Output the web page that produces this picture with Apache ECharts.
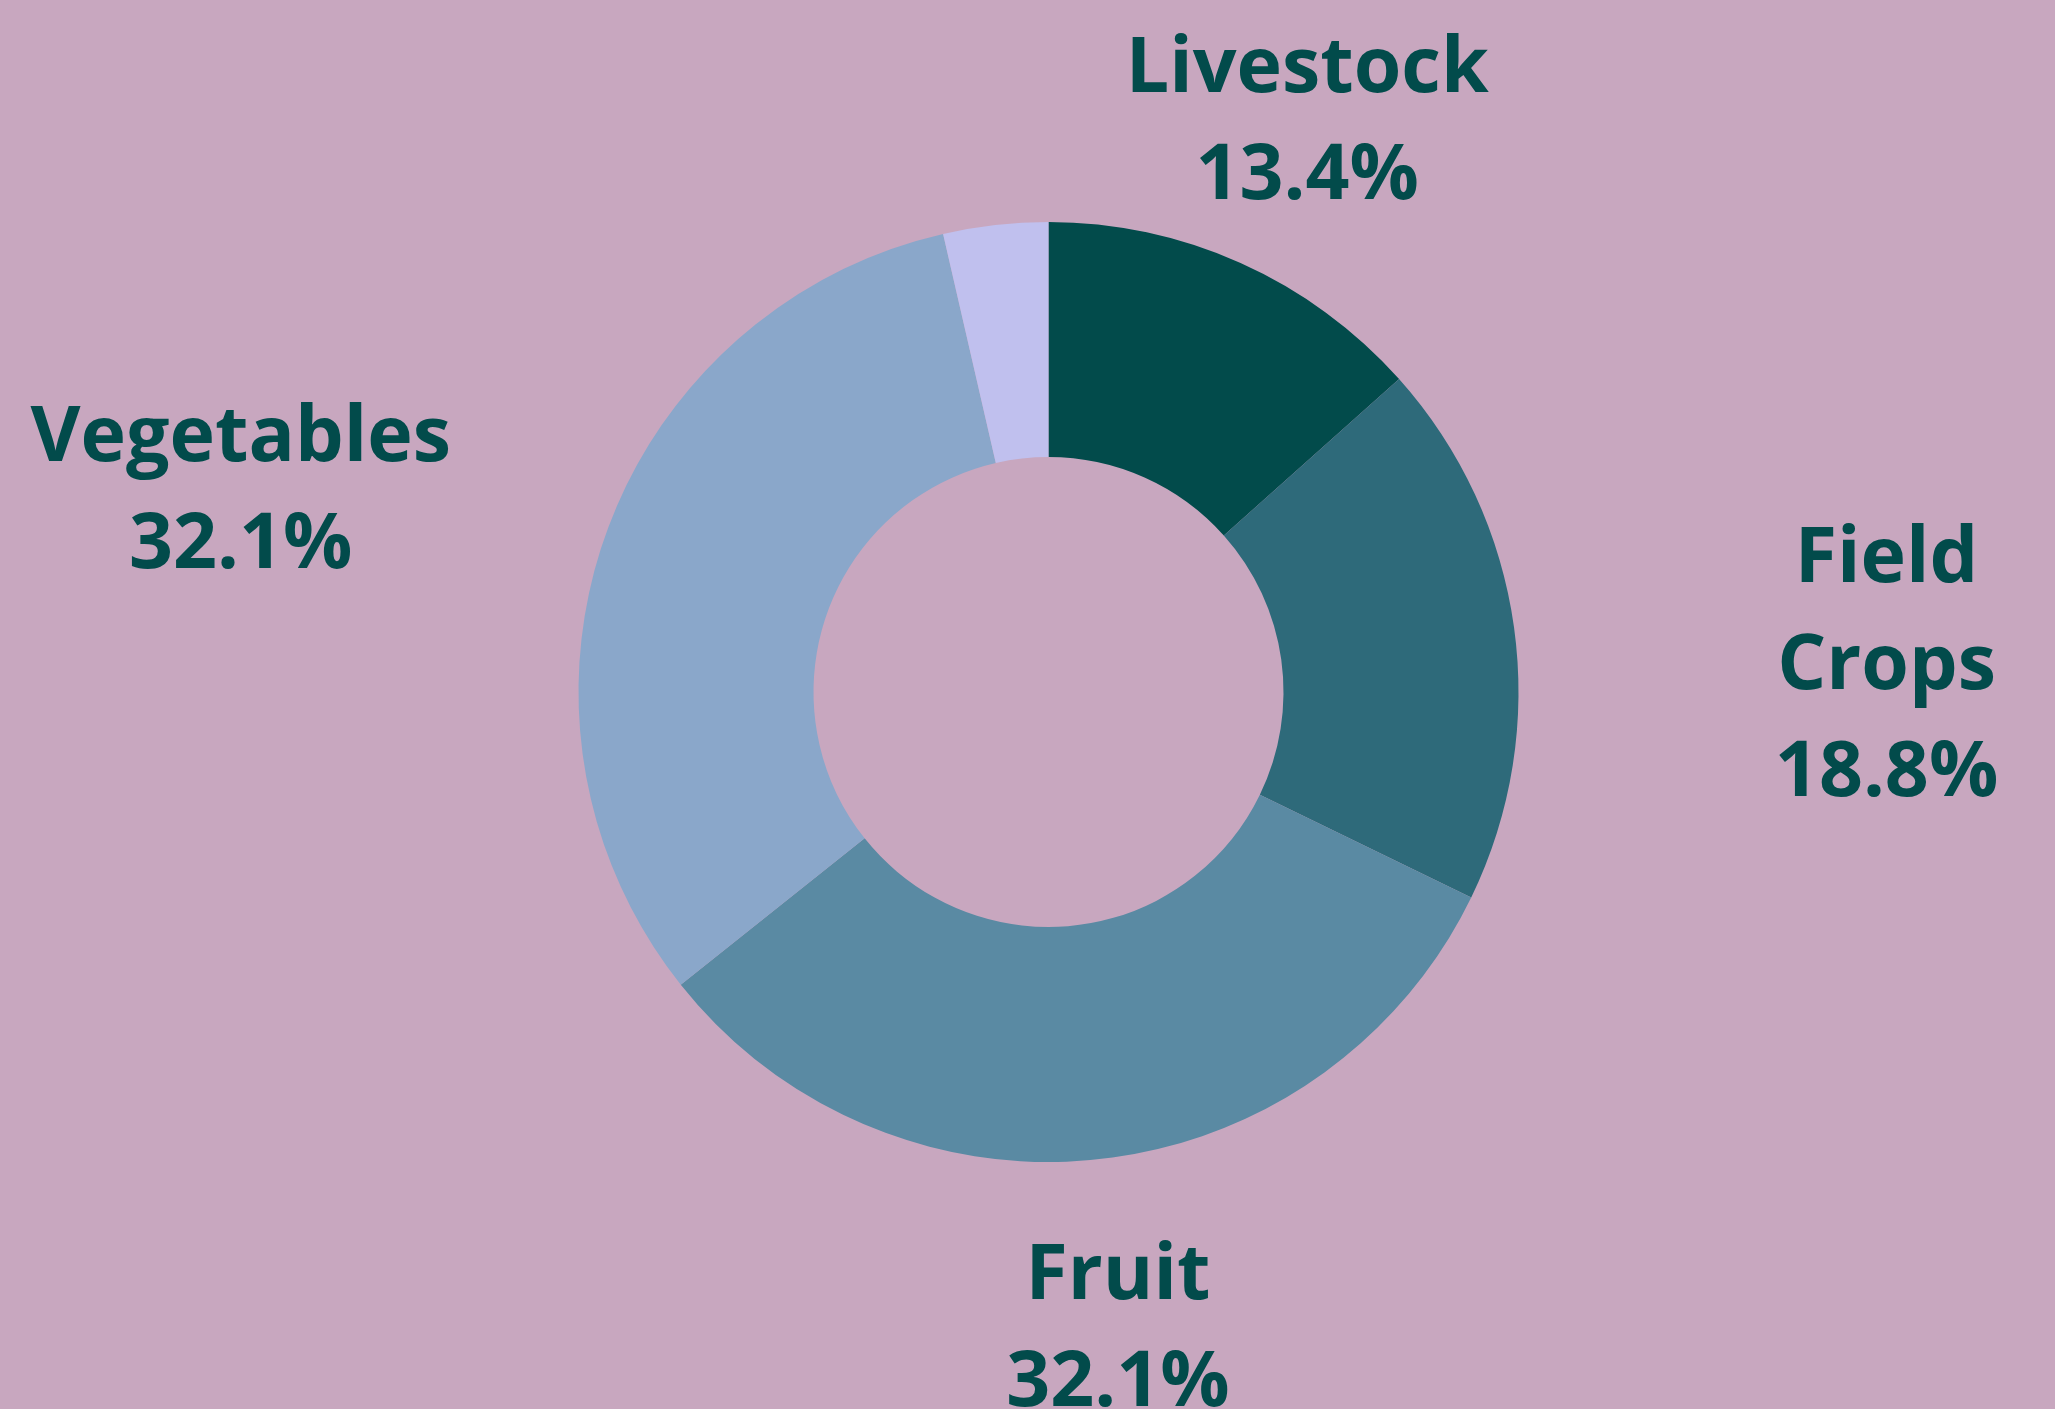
<!DOCTYPE html>
<html>
<head>
<meta charset="utf-8">
<script src="https://cdn.jsdelivr.net/npm/echarts@6/dist/echarts.min.js"></script>
<style>
  html, body { margin: 0; padding: 0; background: #c8a7bf; }
  #chart { width: 2055px; height: 1409px; }
</style>
</head>
<body>
<div id="chart"></div>
<script>
// data
const categories = ['Livestock', 'Field Crops', 'Fruit', 'Vegetables', 'Other'];
const shares = [13.4, 18.8, 32.1, 32.1, 3.6];
const sliceColors = ['#024b4b', '#2e6a7a', '#5a8aa3', '#8aa7ca', '#c0c0ee'];
const showLabel = [true, true, true, true, false];

// layout
const CENTER = [1048.5, 692];
const R_OUT = 470, R_IN = 235;
const LABEL_R = 633;
const FONT_SIZE = 77;
const LINE_H = 107;
const TEXT_SHIFT = 9;
const TEXT_COLOR = '#024b4b';

const chart = echarts.init(document.getElementById('chart'));

// mid angle of each slice, clockwise from 12 o'clock
const total = shares.reduce((a, b) => a + b, 0);
const midAngles = [];
let acc = 0;
shares.forEach(v => {
  midAngles.push((acc + v / 2) / total * 2 * Math.PI);
  acc += v;
});

const ctx = document.createElement('canvas').getContext('2d');
ctx.font = 'bold ' + FONT_SIZE + 'px "Open Sans"';
const textWidth = s => ctx.measureText(s).width;

const pctText = v => v.toFixed(1) + '%';

// labels sit on a ring outside the donut; side labels are pushed out by half their (unwrapped) width
const placeLabel = p => {
  const i = p.dataIndex;
  const s = Math.sin(midAngles[i]), c = Math.cos(midAngles[i]);
  let x = CENTER[0] + LABEL_R * s;
  const y = CENTER[1] - LABEL_R * c - LINE_H + TEXT_SHIFT;
  if (Math.abs(s) > 0.8) {
    const w = Math.max(textWidth(categories[i]), textWidth(pctText(shares[i])));
    x += Math.sign(s) * w / 2;
  }
  return { x: x, y: y, align: 'center', verticalAlign: 'top' };
};

chart.setOption({
  backgroundColor: '#c8a7bf',
  animation: false,
  series: [{
    type: 'pie',
    center: CENTER,
    radius: [R_IN, R_OUT],
    startAngle: 90,
    clockwise: true,
    avoidLabelOverlap: false,
    itemStyle: { borderWidth: 0 },
    emphasis: { disabled: true },
    label: {
      position: 'outside',
      formatter: p => p.name.replace(' ', '\n') + '\n' + pctText(p.value),
      color: TEXT_COLOR,
      fontFamily: 'Open Sans',
      fontWeight: 'bold',
      fontSize: FONT_SIZE,
      lineHeight: LINE_H
    },
    labelLine: { show: false },
    labelLayout: placeLabel,
    data: categories.map((name, i) => ({
      name: name,
      value: shares[i],
      itemStyle: { color: sliceColors[i] },
      label: { show: showLabel[i] }
    }))
  }]
});
</script>
</body>
</html>
